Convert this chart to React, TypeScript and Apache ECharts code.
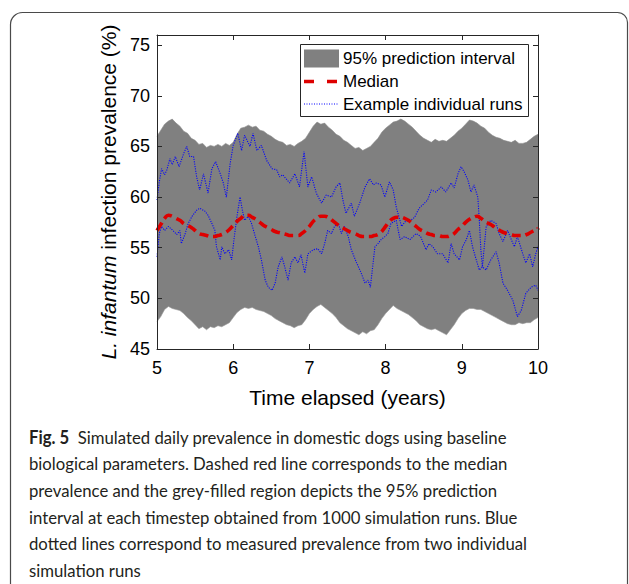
import React, { useEffect, useRef } from "react";
import * as echarts from "echarts";

// Time grid (years) for the band and median, 0.05-year steps
const bandTimes: number[] = Array.from({ length: 101 }, (_, i) => +(5 + i * 0.05).toFixed(2));

// Upper edge of 95% prediction interval (%)
const upperBound: number[] = [
  66.0, 66.6, 67.2, 67.5, 67.7, 67.3, 67.0, 66.5, 66.3, 65.8,
  65.6, 65.2, 65.3, 64.9, 65.1, 65.0, 65.2, 65.0, 65.3, 65.1,
  65.4, 66.2, 66.8, 66.9, 67.1, 66.9, 67.0, 66.6, 66.5, 66.2,
  66.0, 65.7, 65.5, 65.4, 65.1, 65.2, 65.0, 65.3, 65.5, 65.8,
  66.4, 67.0, 67.4, 67.2, 67.3, 66.9, 66.6, 66.2, 66.0, 65.6,
  65.4, 65.1, 64.8, 64.9, 64.6, 64.8, 65.0, 65.4, 65.8, 66.4,
  66.8, 67.1, 67.4, 67.5, 67.7, 67.5, 67.2, 66.9, 66.5, 66.1,
  65.8, 65.6, 65.4, 65.7, 65.5, 65.6, 65.5, 65.8, 66.1, 66.5,
  66.8, 67.2, 67.6, 67.5, 67.3, 67.0, 66.8, 66.4, 66.1, 65.9,
  65.8, 65.6, 65.5, 65.4, 65.6, 65.3, 65.3, 65.4, 65.7, 66.0,
  66.2,
];

// Lower edge of 95% prediction interval (%)
const lowerBound: number[] = [
  47.7, 48.2, 48.9, 49.2, 49.0, 48.9, 48.8, 48.5, 48.1, 47.8,
  47.4, 47.0, 47.2, 46.9, 47.2, 47.1, 47.3, 47.2, 47.4, 47.6,
  48.1, 48.6, 48.9, 49.1, 49.0, 49.1, 48.9, 48.8, 48.7, 48.5,
  48.3, 48.0, 47.8, 47.6, 47.4, 47.3, 47.1, 47.3, 47.4, 47.9,
  48.5, 48.9, 49.2, 49.4, 49.1, 48.8, 48.5, 48.1, 47.6, 47.3,
  47.0, 46.8, 46.6, 46.4, 46.7, 46.5, 46.8, 46.9, 47.4, 48.0,
  48.5, 48.9, 49.3, 49.0, 48.8, 48.6, 48.4, 48.1, 47.8, 47.4,
  47.2, 47.0, 46.9, 47.0, 46.8, 46.6, 46.4, 46.9, 47.4, 48.0,
  48.5, 48.8, 49.0, 49.0, 48.9, 48.9, 48.7, 48.5, 48.3, 48.1,
  47.9, 47.7, 47.5, 47.4, 47.4, 47.6, 47.5, 47.6, 47.6, 47.9,
  48.1,
];

// Median prevalence (%)
const medianValues: number[] = [
  56.7, 57.3, 57.9, 58.2, 58.1, 57.9, 57.7, 57.4, 57.2, 57.0,
  56.7, 56.4, 56.3, 56.2, 56.1, 56.1, 56.2, 56.3, 56.5, 56.8,
  57.2, 57.6, 57.9, 58.2, 58.2, 58.0, 57.8, 57.5, 57.2, 57.0,
  56.8, 56.6, 56.5, 56.4, 56.3, 56.2, 56.2, 56.2, 56.4, 56.7,
  57.1, 57.6, 57.9, 58.1, 58.1, 58.0, 57.7, 57.4, 57.1, 56.9,
  56.7, 56.5, 56.4, 56.2, 56.1, 56.1, 56.1, 56.2, 56.3, 56.6,
  57.1, 57.6, 57.9, 58.0, 58.0, 57.9, 57.7, 57.4, 57.1, 56.8,
  56.6, 56.4, 56.3, 56.2, 56.2, 56.1, 56.1, 56.2, 56.4, 56.8,
  57.1, 57.5, 57.8, 58.0, 58.1, 57.9, 57.6, 57.4, 57.2, 56.9,
  56.7, 56.5, 56.4, 56.3, 56.2, 56.2, 56.2, 56.3, 56.5, 56.7,
  56.9,
];

// Example individual run 1 [years, %]
const runA: number[][] = [
  [5.0, 59.7], [5.03, 61.5], [5.06, 62.8], [5.1, 62.2], [5.13, 62.7], [5.17, 63.8], [5.2, 63.2],
  [5.24, 64.0], [5.29, 63.0], [5.35, 64.3], [5.39, 65.0], [5.43, 64.0], [5.48, 64.0], [5.52, 62.0],
  [5.56, 60.7], [5.61, 62.3], [5.67, 60.4], [5.72, 62.8], [5.77, 63.5], [5.83, 62.3], [5.87, 61.4],
  [5.91, 60.0], [5.96, 63.3], [6.0, 65.1], [6.06, 66.3], [6.11, 64.6], [6.15, 66.1], [6.22, 65.0],
  [6.26, 66.3], [6.31, 64.6], [6.37, 65.1], [6.44, 63.6], [6.51, 62.8], [6.57, 62.7], [6.61, 62.0],
  [6.65, 62.2], [6.74, 61.4], [6.81, 62.3], [6.87, 61.0], [6.93, 64.5], [6.98, 61.0], [7.03, 62.0],
  [7.09, 60.4], [7.16, 59.4], [7.22, 60.2], [7.29, 60.0], [7.35, 61.0], [7.4, 61.4], [7.44, 59.7],
  [7.48, 58.4], [7.55, 59.4], [7.59, 58.1], [7.66, 59.4], [7.73, 61.0], [7.79, 61.8], [7.84, 61.2],
  [7.88, 61.4], [7.94, 61.2], [7.99, 60.0], [8.05, 61.5], [8.1, 60.7], [8.14, 59.0], [8.21, 57.1],
  [8.26, 57.6], [8.33, 57.7], [8.38, 58.0], [8.44, 58.9], [8.51, 59.4], [8.55, 59.7], [8.6, 60.7],
  [8.66, 60.5], [8.73, 61.0], [8.79, 60.5], [8.86, 61.4], [8.9, 60.9], [8.95, 62.3], [8.99, 63.0],
  [9.03, 62.5], [9.08, 61.7], [9.12, 60.5], [9.16, 61.2], [9.21, 60.0], [9.23, 57.7], [9.25, 54.8],
  [9.27, 53.1], [9.32, 52.8], [9.38, 53.8], [9.45, 54.6], [9.49, 53.5], [9.54, 51.5], [9.6, 50.8],
  [9.67, 49.8], [9.73, 48.2], [9.78, 48.8], [9.84, 50.5], [9.91, 51.1], [9.97, 51.3], [10.0, 50.8],
];

// Example individual run 2 [years, %]
const runB: number[][] = [
  [5.0, 54.1], [5.03, 56.4], [5.06, 57.1], [5.1, 56.7], [5.15, 57.1], [5.21, 56.7], [5.26, 56.3],
  [5.3, 56.7], [5.32, 55.4], [5.37, 56.4], [5.41, 57.4], [5.46, 58.1], [5.52, 58.7], [5.56, 58.9],
  [5.63, 58.6], [5.67, 58.2], [5.72, 57.4], [5.76, 56.7], [5.78, 55.1], [5.83, 53.8], [5.85, 55.1],
  [5.89, 54.4], [5.94, 54.8], [5.98, 53.8], [6.01, 55.8], [6.05, 58.1], [6.09, 60.0], [6.12, 58.7],
  [6.15, 57.7], [6.2, 58.1], [6.24, 57.4], [6.29, 56.1], [6.33, 55.1], [6.37, 53.8], [6.42, 51.8],
  [6.46, 51.1], [6.51, 50.8], [6.55, 51.5], [6.59, 53.1], [6.64, 54.1], [6.68, 53.0], [6.72, 51.8],
  [6.76, 53.5], [6.81, 54.1], [6.85, 53.5], [6.89, 54.3], [6.94, 52.5], [6.98, 54.4], [7.05, 54.8],
  [7.11, 54.9], [7.16, 54.4], [7.2, 55.4], [7.24, 56.7], [7.29, 56.4], [7.33, 57.1], [7.38, 57.4],
  [7.42, 56.4], [7.46, 57.1], [7.51, 56.1], [7.55, 54.8], [7.62, 53.5], [7.68, 52.5], [7.73, 51.5],
  [7.77, 51.8], [7.8, 51.1], [7.83, 53.1], [7.86, 55.1], [7.9, 55.4], [7.94, 55.8], [7.99, 56.1],
  [8.03, 56.4], [8.07, 57.4], [8.14, 57.7], [8.19, 55.8], [8.25, 56.1], [8.32, 55.8], [8.4, 56.4],
  [8.46, 56.1], [8.53, 54.8], [8.57, 55.4], [8.62, 55.1], [8.68, 54.4], [8.75, 54.4], [8.82, 53.5],
  [8.86, 55.4], [8.9, 54.4], [8.97, 53.8], [9.01, 55.1], [9.06, 55.8], [9.1, 56.7], [9.14, 55.1],
  [9.19, 53.8], [9.23, 52.8], [9.27, 53.1], [9.3, 55.5], [9.32, 57.1], [9.38, 57.7], [9.45, 57.4],
  [9.49, 56.4], [9.54, 55.6], [9.6, 56.7], [9.65, 55.8], [9.69, 55.1], [9.73, 56.1], [9.8, 54.4],
  [9.84, 53.5], [9.89, 54.4], [9.93, 53.1], [9.97, 54.4], [10.0, 55.1],
];

const legendNames = ["95% prediction interval", "Median", "Example individual runs"];
const xAxisTitle = "Time elapsed (years)";
const yAxisTitle = "{i|L. infantum} infection prevalence (%)";

const captionLines = [
  "{b|Fig. 5}{n|  Simulated daily prevalence in domestic dogs using baseline}",
  "biological parameters. Dashed red line corresponds to the median",
  "prevalence and the grey-filled region depicts the 95% prediction",
  "interval at each timestep obtained from 1000 simulation runs. Blue",
  "dotted lines correspond to measured prevalence from two individual",
  "simulation runs",
];

const FONT = "'Liberation Sans', Arial, Helvetica, sans-serif";
const CAP_FONT = "Lato, 'Open Sans', sans-serif";
const AX = "#262626";
const GREY = "#808080";
const RED = "#dd0000";
const BLUE = "#0000ff";

export default function App() {
  const ref = useRef<HTMLDivElement>(null);

  useEffect(() => {
    if (!ref.current) return;
    const chart = echarts.init(ref.current, undefined, { renderer: "svg" });

    let capScale = 1;
    try {
      const c = document.createElement("canvas").getContext("2d");
      if (c) {
        c.font = `18px Lato`;
        const w = c.measureText(captionLines[1]).width;
        if (w > 0) capScale = 479 / w;
      }
    } catch (e) {}

    const upperData = bandTimes.map((t, i) => [t, upperBound[i]]);
    const lowerData = bandTimes.map((t, i) => [t, lowerBound[i]]);
    const medianData = bandTimes.map((t, i) => [t, medianValues[i]]);

    const axisCommon = {
      z: 10,
      axisLine: { show: true, onZero: false, lineStyle: { color: AX, width: 1 } },
      axisTick: { show: true, inside: true, length: 5, lineStyle: { color: AX, width: 1 } },
      splitLine: { show: false },
    };

    // Legend drawn as a MATLAB-style box
    const LX = 300.5, LY = 44.5, LW = 228, LH = 72;
    const rowY = [58.5, 81.5, 104];
    const legendGraphic = {
      type: "group",
      z: 50,
      children: [
        {
          type: "rect",
          shape: { x: LX, y: LY, width: LW, height: LH },
          style: { fill: "#ffffff", stroke: AX, lineWidth: 1 },
        },
        {
          type: "rect",
          shape: { x: 304, y: rowY[0] - 9, width: 35, height: 18 },
          style: { fill: GREY },
        },
        {
          type: "line",
          shape: { x1: 304, y1: rowY[1], x2: 339, y2: rowY[1] },
          style: { stroke: RED, lineWidth: 3.5, lineDash: [10, 13] },
        },
        {
          type: "line",
          shape: { x1: 304, y1: rowY[2], x2: 339, y2: rowY[2] },
          style: { stroke: BLUE, lineWidth: 1, lineDash: [1, 1.5] },
        },
        ...legendNames.map((n, i) => ({
          type: "text",
          x: 343,
          y: rowY[i],
          style: {
            text: n,
            fontSize: 17,
            fontFamily: FONT,
            fill: "#000",
            verticalAlign: "middle",
            align: "left",
          },
        })),
      ],
    };

    const option: any = {
      animation: false,
      backgroundColor: "#ffffff",
      grid: { left: 157, top: 35, width: 381, height: 314, containLabel: false },
      xAxis: [
        {
          type: "value",
          min: 5,
          max: 10,
          interval: 1,
          position: "bottom",
          ...axisCommon,
          axisLabel: { fontSize: 18, fontFamily: FONT, color: "#000", margin: 10 },
          name: xAxisTitle,
          nameLocation: "middle",
          nameGap: 38,
          nameTextStyle: { fontSize: 21, fontFamily: FONT, color: "#000" },
        },
        {
          type: "value",
          min: 5,
          max: 10,
          interval: 1,
          position: "top",
          ...axisCommon,
          axisLabel: { show: false },
        },
      ],
      yAxis: [
        {
          type: "value",
          min: 45,
          max: 76,
          interval: 5,
          position: "left",
          ...axisCommon,
          axisLabel: {
            fontSize: 18,
            fontFamily: FONT,
            color: "#000",
            margin: 7,
            showMaxLabel: false,
            formatter: (v: number) => (v % 5 === 0 ? String(v) : ""),
          },
          name: yAxisTitle,
          nameLocation: "middle",
          nameGap: 38,
          nameRotate: 90,
          nameTextStyle: {
            fontSize: 21,
            fontFamily: FONT,
            color: "#000",
            rich: { i: { fontSize: 21, fontFamily: FONT, fontStyle: "italic", color: "#000" } },
          },
        },
        {
          type: "value",
          min: 45,
          max: 76,
          interval: 5,
          position: "right",
          ...axisCommon,
          axisLabel: { show: false },
        },
      ],
      series: [
        {
          name: legendNames[0],
          type: "line",
          data: upperData,
          symbol: "none",
          silent: true,
          itemStyle: { color: GREY },
          lineStyle: { width: 0.6, color: "#8a8a8a" },
          areaStyle: { color: GREY, opacity: 1, origin: "start" },
          emphasis: { disabled: true },
          z: 1,
        },
        {
          name: "lowerEdge",
          type: "line",
          data: lowerData,
          symbol: "none",
          silent: true,
          itemStyle: { color: "#ffffff" },
          lineStyle: { width: 0.6, color: "#9a9a9a" },
          areaStyle: { color: "#ffffff", opacity: 1, origin: "start" },
          emphasis: { disabled: true },
          z: 1.5,
        },
        {
          name: legendNames[2],
          type: "line",
          data: runA,
          symbol: "none",
          silent: true,
          itemStyle: { color: BLUE },
          lineStyle: { color: BLUE, width: 1.1, type: [1.1, 1.3] },
          emphasis: { disabled: true },
          z: 2,
        },
        {
          name: legendNames[2],
          type: "line",
          data: runB,
          symbol: "none",
          silent: true,
          itemStyle: { color: BLUE },
          lineStyle: { color: BLUE, width: 1.1, type: [1.1, 1.3] },
          emphasis: { disabled: true },
          z: 2,
        },
        {
          name: legendNames[1],
          type: "line",
          data: medianData,
          symbol: "none",
          silent: true,
          smooth: true,
          itemStyle: { color: RED },
          lineStyle: { color: RED, width: 3.6, type: [9, 5] },
          emphasis: { disabled: true },
          z: 3,
        },
      ],
      graphic: [
        {
          type: "rect",
          silent: true,
          shape: { x: 10.5, y: 12.5, width: 617, height: 620, r: [12, 10, 0, 0] },
          style: { fill: "none", stroke: "#4a4a4a", lineWidth: 1.2 },
        },
        legendGraphic,
        {
          type: "group",
          x: 29,
          y: 0,
          scaleX: capScale,
          children: captionLines.map((line, i) => ({
            type: "text",
            x: 0,
            y: 437 + i * 26.6,
            style: {
              text: line,
              fontSize: 18,
              fontFamily: CAP_FONT,
              fill: "#231f20",
              verticalAlign: "middle",
              align: "left",
              rich: {
                b: { fontSize: 18, fontFamily: CAP_FONT, fontWeight: "bold", fill: "#231f20" },
                n: { fontSize: 18, fontFamily: CAP_FONT, fill: "#231f20" },
              },
            },
          })),
        },
      ],
    };

    chart.setOption(option);
    return () => chart.dispose();
  }, []);

  return (
    <div
      ref={ref}
      style={{ position: "fixed", left: 0, top: 0, width: 629, height: 584, background: "#fff" }}
    />
  );
}
